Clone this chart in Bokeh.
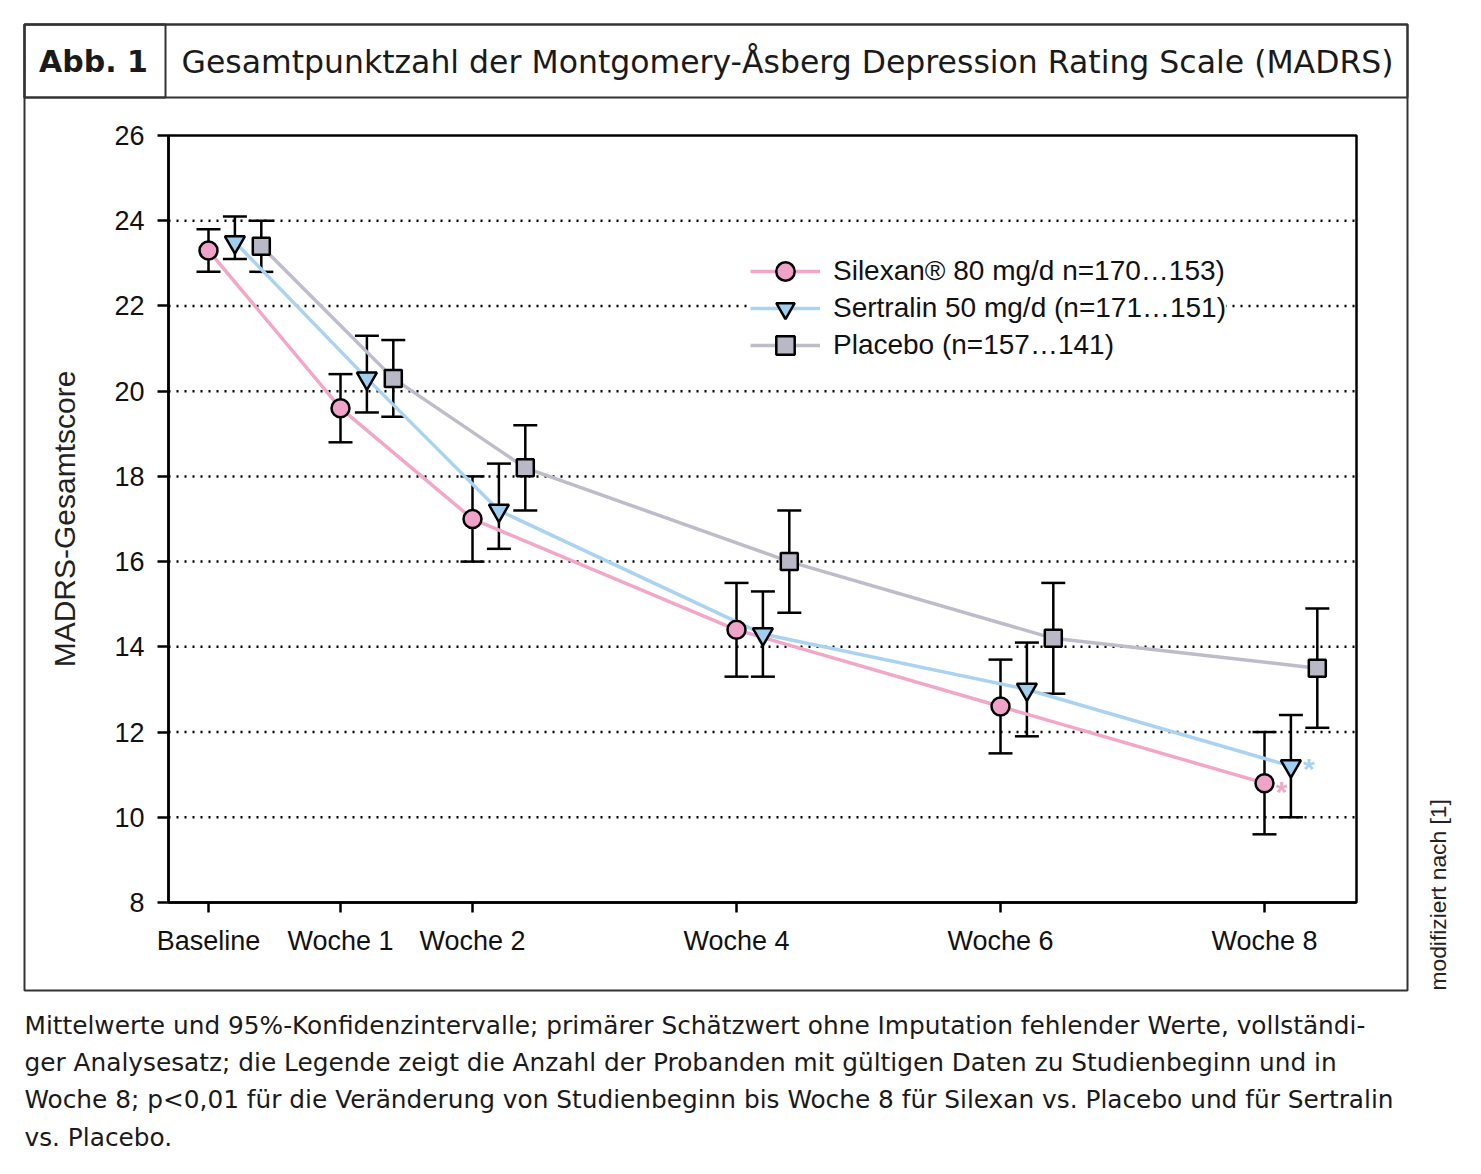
import math
from bokeh.plotting import figure
from bokeh.models import (Range1d, FixedTicker, Label, BoxAnnotation, Legend,
                          LegendItem, ColumnDataSource, Whisker, TeeHead)
from bokeh.embed import file_html
from bokeh.resources import INLINE

# ---------------- data ----------------
weeks = [0, 1, 2, 4, 6, 8]
tick_labels = ["Baseline", "Woche 1", "Woche 2", "Woche 4", "Woche 6", "Woche 8"]
y_ticks = [8, 10, 12, 14, 16, 18, 20, 22, 24, 26]
grid_values = [10, 12, 14, 16, 18, 20, 22, 24]

silexan_mean = [23.3, 19.6, 17.0, 14.4, 12.6, 10.8]
silexan_lo = [22.8, 18.8, 16.0, 13.3, 11.5, 9.6]
silexan_hi = [23.8, 20.4, 18.0, 15.5, 13.7, 12.0]

sertralin_mean = [23.5, 20.3, 17.2, 14.3, 13.0, 11.2]
sertralin_lo = [23.1, 19.5, 16.3, 13.3, 11.9, 10.0]
sertralin_hi = [24.1, 21.3, 18.3, 15.3, 14.1, 12.4]

placebo_mean = [23.4, 20.3, 18.2, 16.0, 14.2, 13.5]
placebo_lo = [22.8, 19.4, 17.2, 14.8, 12.9, 12.1]
placebo_hi = [24.0, 21.2, 19.2, 17.2, 15.5, 14.9]

series_names = ["Silexan® 80 mg/d n=170…153)",
                "Sertralin 50 mg/d (n=171…151)",
                "Placebo (n=157…141)"]

header_tag = "Abb. 1"
header_title = "Gesamtpunktzahl der Montgomery-Åsberg Depression Rating Scale (MADRS)"
y_label = "MADRS-Gesamtscore"
side_note = "modifiziert nach [1]"
caption_lines = [
    "Mittelwerte und 95%-Konfidenzintervalle; primärer Schätzwert ohne Imputation fehlender Werte, vollständi-",
    "ger Analysesatz; die Legende zeigt die Anzahl der Probanden mit gültigen Daten zu Studienbeginn und in",
    "Woche 8; p<0,01 für die Veränderung von Studienbeginn bis Woche 8 für Silexan vs. Placebo und für Sertralin",
    "vs. Placebo.",
]

# ---------------- geometry (page pixels) ----------------
W, H = 1480, 1172
FRAME_L, FRAME_R, FRAME_T, FRAME_B = 168, 1356, 135, 902
X0_PX, PX_PER_WEEK = 208, 132.0
Y_MIN, Y_MAX = 8, 26


def X(px):
    return (px - X0_PX) / PX_PER_WEEK


def Y(py):
    return Y_MAX - (py - FRAME_T) / (FRAME_B - FRAME_T) * (Y_MAX - Y_MIN)


x_start, x_end = X(FRAME_L), X(FRAME_R)

p = figure(frame_width=W, frame_height=H, title=None,
           min_border_left=0, min_border_right=0, min_border_top=0, min_border_bottom=0,
           x_range=Range1d(X(0), X(W)), y_range=Range1d(Y(H), Y(0)),
           output_backend="svg", toolbar_location=None, tools="")
p.background_fill_color = "white"
p.border_fill_color = "white"
p.outline_line_color = None
p.xgrid.visible = False
p.ygrid.visible = False

# axes placed at the plot box edges
for ax in (p.xaxis[0], p.yaxis[0]):
    ax.axis_line_color = "black"
    ax.axis_line_width = 2.5
    ax.major_tick_line_color = "black"
    ax.major_tick_line_width = 2.5
    ax.major_tick_in = 0
    ax.minor_tick_line_color = None
    ax.major_label_text_font = "Liberation Sans"
    ax.major_label_text_font_size = "27px"
    ax.major_label_text_color = "#111111"

p.xaxis.ticker = FixedTicker(ticks=weeks)
p.xaxis.major_label_overrides = {w: t for w, t in zip(weeks, tick_labels)}
p.xaxis.major_tick_out = 10
p.xaxis.major_label_standoff = 13
p.xaxis.fixed_location = Y_MIN
p.xaxis.bounds = (x_start, x_end)

p.yaxis.ticker = FixedTicker(ticks=y_ticks)
p.yaxis.major_tick_out = 11
p.yaxis.major_label_standoff = 13
p.yaxis.fixed_location = x_start
p.yaxis.bounds = (Y_MIN, Y_MAX)
p.yaxis.axis_label = y_label
p.yaxis.axis_label_text_font = "Liberation Sans"
p.yaxis.axis_label_text_font_size = "30px"
p.yaxis.axis_label_text_font_style = "normal"
p.yaxis.axis_label_text_color = "#222222"
p.yaxis.axis_label_standoff = 30

# plot box (top/right edges)
p.add_layout(BoxAnnotation(left=x_start, right=x_end, bottom=Y_MIN, top=Y_MAX,
                           fill_alpha=0, fill_color=None, line_color="black",
                           line_alpha=1.0, line_width=2.5, level="underlay"))

# dotted horizontal grid lines
p.segment(x0=[x_start] * len(grid_values), x1=[x_end] * len(grid_values),
          y0=grid_values, y1=grid_values, line_color="black", line_width=2.5,
          line_dash="2 6", level="underlay")

# ---------------- series ----------------
offsets = [0.0, 0.2, 0.4]
means = [silexan_mean, sertralin_mean, placebo_mean]
los = [silexan_lo, sertralin_lo, placebo_lo]
his = [silexan_hi, sertralin_hi, placebo_hi]
line_colors = ["#F2A6C8", "#A9D3F1", "#BCBCCB"]
fill_colors = ["#F0A3C8", "#9FCEEF", "#B8B8C6"]
markers = ["circle", "inverted_triangle", "square"]
sizes = [18, 20, 17]

for i in range(3):
    xs = [w + offsets[i] for w in weeks]
    src = ColumnDataSource(dict(x=xs, lo=los[i], hi=his[i]))
    p.add_layout(Whisker(source=src, base="x", upper="hi", lower="lo", dimension="height",
                         line_color="black", line_width=2.5, level="underlay",
                         upper_head=TeeHead(size=24, line_color="black", line_width=2.5),
                         lower_head=TeeHead(size=24, line_color="black", line_width=2.5)))

lines = []
for i in range(3):
    xs = [w + offsets[i] for w in weeks]
    src = ColumnDataSource(dict(x=xs, m=means[i]))
    lr = p.line("x", "m", source=src, line_color=line_colors[i], line_width=3.5)
    lines.append((lr, src))

items = []
for i in range(3):
    lr, src = lines[i]
    sr = p.scatter("x", "m", source=src, marker=markers[i], size=sizes[i],
                   fill_color=fill_colors[i], line_color="black", line_width=2.5)
    items.append(LegendItem(label=series_names[i], renderers=[lr, sr]))

# one legend row per series (rows 37 px apart); the middle one hides the grid line behind it
row_centers = [271, 308, 345]
GLYPH_H = 46
for i in [1, 0, 2]:
    loc = (750, H - (row_centers[i] + GLYPH_H // 2))
    lg = Legend(items=[items[i]], location=loc, orientation="vertical",
                label_text_font="Liberation Sans", label_text_font_size="28px",
                label_text_color="#111111", glyph_width=70, glyph_height=GLYPH_H,
                label_height=GLYPH_H, spacing=0, label_standoff=13, padding=0,
                border_line_color=None, background_fill_color="white",
                background_fill_alpha=1.0 if i == 1 else 0.0, margin=0)
    p.add_layout(lg, "center")

# significance asterisks at week 8
p.add_layout(Label(x=weeks[-1] + offsets[0] + 0.13, y=silexan_mean[-1] - 0.2, text="*",
                   text_color="#F2A6C8", text_font="Liberation Sans", text_font_size="30px",
                   text_font_style="bold", text_align="center", text_baseline="middle"))
p.add_layout(Label(x=weeks[-1] + offsets[1] + 0.135, y=sertralin_mean[-1] - 0.05, text="*",
                   text_color="#A9D3F1", text_font="Liberation Sans", text_font_size="30px",
                   text_font_style="bold", text_align="center", text_baseline="middle"))

# ---------------- frame boxes / header / caption ----------------
box_kw = dict(fill_color=None, fill_alpha=0, line_color="#333333", line_alpha=1.0,
              line_width=2, level="overlay")
p.add_layout(BoxAnnotation(left=X(24), right=X(1407), top=Y(24), bottom=Y(990), **box_kw))
p.add_layout(BoxAnnotation(left=X(24), right=X(1407), top=Y(24), bottom=Y(97), **box_kw))
p.add_layout(BoxAnnotation(left=X(24), right=X(165), top=Y(24), bottom=Y(97), **box_kw))

p.add_layout(Label(x=X(93), y=Y(61), text=header_tag, text_font="DejaVu Sans",
                   text_font_style="bold", text_font_size="30px", text_color="#1a1a1a",
                   text_align="center", text_baseline="middle"))
p.add_layout(Label(x=X(181), y=Y(61), text=header_title, text_font="DejaVu Sans",
                   text_font_size="31.5px", text_color="#1a1a1a",
                   text_align="left", text_baseline="middle"))

cap_y = [1025, 1062, 1099, 1137]
for t, yy in zip(caption_lines, cap_y):
    p.add_layout(Label(x=X(24), y=Y(yy), text=t, text_font="DejaVu Sans",
                       text_font_size="24.8px", text_color="#1a1a1a",
                       text_align="left", text_baseline="middle"))

p.add_layout(Label(x=X(1437), y=Y(990), text=side_note, text_font="Liberation Sans",
                   text_font_size="22.8px", text_color="#222222", angle=math.pi / 2,
                   text_align="left", text_baseline="middle"))

open("out.html", "w").write(file_html(p, INLINE))
